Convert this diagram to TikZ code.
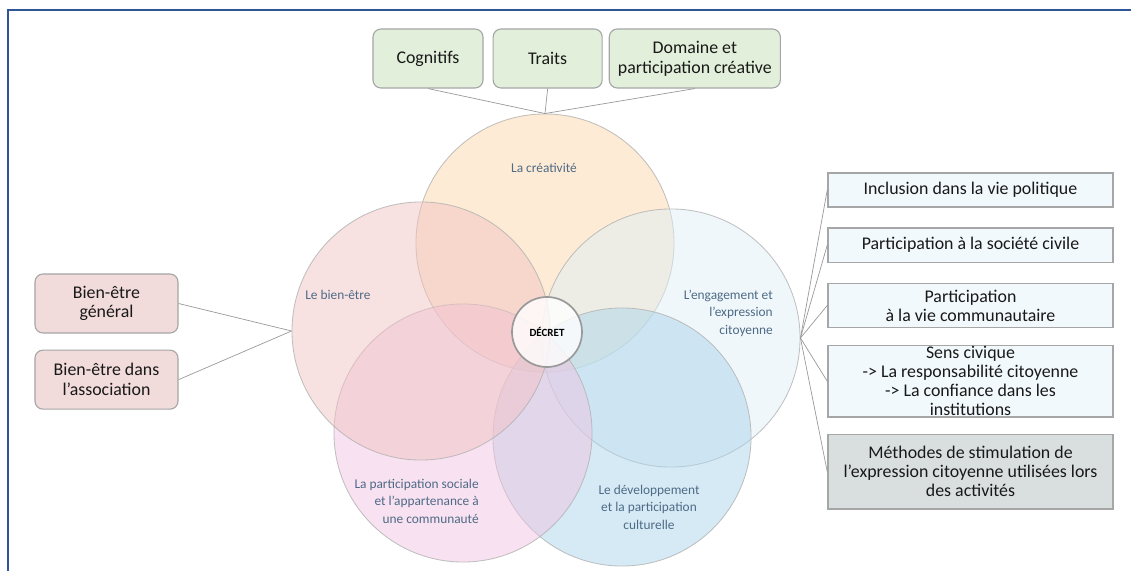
\documentclass[tikz,border=0pt]{standalone}
\usepackage{fontspec}
\setmainfont{Carlito}
\usetikzlibrary{positioning}

\definecolor{framecol}{HTML}{2F5597}
\definecolor{creafill}{HTML}{FBD7AB}
\definecolor{bienfill}{HTML}{F1C3C3}
\definecolor{engagfill}{HTML}{DFEFF7}
\definecolor{partfill}{HTML}{F1C3E1}
\definecolor{devfill}{HTML}{ABD5EB}
\definecolor{greenbox}{HTML}{E2EFDA}
\definecolor{pinkbox}{HTML}{F2DCDB}
\definecolor{bluebox}{HTML}{F2F9FC}
\definecolor{graybox}{HTML}{D9DFDF}
\definecolor{boxline}{HTML}{A6A6A6}
\definecolor{ringtext}{HTML}{4E6A86}

\begin{document}
\begin{tikzpicture}[x=0.025cm, y=-0.025cm,
				ring/.style={circle, minimum size=6.45cm, inner sep=0pt, fill opacity=0.5, draw=black!30, draw opacity=0.8, line width=0.6pt},
				core/.style={circle, minimum size=17.5mm, inner sep=0pt, fill=white, fill opacity=0.8, text opacity=1, draw=black!40, line width=1.2pt, font=\bfseries\fontsize{7.8}{9}\selectfont},
				ringlabel/.style={text=ringtext, inner sep=0pt, font=\fontsize{9.5}{12.4}\selectfont},
				topic/.style={rectangle, rounded corners=2mm, draw=boxline, line width=0.8pt, fill=greenbox, minimum height=14.75mm, align=center, text=black!90, font=\fontsize{12.7}{14}\selectfont},
				wellbox/.style={topic, fill=pinkbox, minimum width=35.75mm},
				civic/.style={rectangle, draw=boxline, line width=1pt, fill=bluebox, minimum width=71.25mm, align=center, text=black!90, font=\fontsize{12.7}{13.5}\selectfont},
				method/.style={civic, fill=graybox, minimum height=18.6mm},
				link/.style={draw=black!40, line width=0.5pt}
			]
			\useasboundingbox (0,0) rectangle (1131,571);
			\draw[framecol, line width=1pt] (8,571) -- (8,10) -- (1131,10);
			% the five circles
			\node[ring, fill=creafill] (crea) at (545,243) {};
			\node[ring, fill=engagfill] (engag) at (671,338) {};
			\node[ring, fill=devfill] (dev) at (622,437) {};
			\node[ring, fill=partfill] (part) at (463,433) {};
			\node[ring, fill=bienfill] (bien) at (421,331) {};
			\node[core] (decret) at (547,332) {DÉCRET};
			\node[ringlabel] (crealabel) at (544,168) {La créativité};
			\node[ringlabel, anchor=west] (bienlabel) at (305,295) {Le bien-être};
			\node[ringlabel, anchor=east, align=right] (engaglabel) at (773,313) {L'engagement et\\l'expression\\citoyenne};
			\node[ringlabel, anchor=east, align=right] (partlabel) at (479,501) {La participation sociale\\et l'appartenance à\\une communauté};
			\node[ringlabel, align=center] (devlabel) at (649,507) {Le développement\\et la participation\\culturelle};
			% top boxes
			\node[topic, minimum width=27.5mm] (cogn) at (428,58.5) {Cognitifs};
			\node[topic, minimum width=27.25mm] (traits) [right=2.25mm of cogn] {Traits};
			\node[topic, minimum width=42.75mm] (domaine) [right=1.5mm of traits] {Domaine et\\participation créative};
			% left boxes
			\node[wellbox] (general) at (106.5,303.5) {Bien-être\\général};
			\node[wellbox] (assoc) [below=4mm of general] {Bien-être dans\\l’association};
			% right boxes
			\node[civic, minimum height=8.5mm] (politique) at (970.5,190) {Inclusion dans la vie politique};
			\node[civic, minimum height=8.6mm] (societe) [below=4.85mm of politique] {Participation à la société civile};
			\node[civic, minimum height=10.9mm] (communaute) [below=5mm of societe] {Participation\\à la vie communautaire};
			\node[civic, minimum height=17.9mm, inner sep=0pt] (civique) [below=4.2mm of communaute] {\parbox[c][10mm][c]{70mm}{\centering Sens civique\\-> La responsabilité citoyenne\\-> La confiance dans les\\institutions}};
			\node[method] (methodes) [below=4mm of civique] {Méthodes de stimulation de\\l’expression citoyenne utilisées lors\\des activités};
			\begin{scope}[link]
			\draw (cogn.south) -- (crea.north);
			\draw (traits.south) -- (crea.north);
			\draw (domaine.south) -- (crea.north);
			\draw (general.east) -- (bien.west);
			\draw (assoc.east) -- (bien.west);
			\draw (engag.east) -- (politique.west);
			\draw (engag.east) -- (societe.west);
			\draw (engag.east) -- (communaute.west);
			\draw (engag.east) -- (civique.west);
			\draw (engag.east) -- (methodes.west);
			\end{scope}
			\end{tikzpicture}
\end{document}
